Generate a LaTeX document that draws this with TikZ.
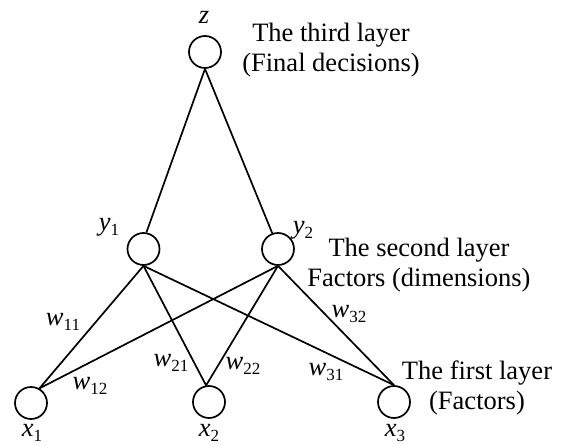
\documentclass[tikz,border=0pt]{standalone}
\usepackage{fontspec}
\setmainfont{Liberation Serif}
\newcommand{\vsub}[2]{\textit{#1}\raisebox{-0.4ex}{\fontsize{17}{18}\selectfont #2}}
\begin{document}
\begin{tikzpicture}[x=1pt,y=-1pt,
  neuron/.style={circle,draw,line width=1.7pt,minimum size=32pt,inner sep=0pt},
  conn/.style={line width=1.7pt},
  lbl/.style={inner sep=0pt,font=\fontsize{26.5}{30}\selectfont},
  captext/.style={inner sep=0pt,align=center,font=\fontsize{26.5}{30}\selectfont}]
\useasboundingbox (0,0) rectangle (568,446);
\node[neuron] (z) at (205,52) {};
\node[neuron] (y1) at (143.5,249) {};
\node[neuron] (y2) at (278,249) {};
\node[neuron] (x1) at (31,403) {};
\node[neuron] (x2) at (209,402) {};
\node[neuron] (x3) at (394,402) {};
\draw[conn] (z.south) -- (y1.80);
\draw[conn] (z.south) -- (y2.110);
\foreach \y in {y1,y2}{
  \draw[conn] (\y.south) -- (x1.60);
  \draw[conn] (\y.south) -- (x2.100);
  \draw[conn] (\y.south) -- (x3.90);
}
\node[lbl] (lz) at (204,17) {\textit{z}};
\node[lbl] (ly1) at (109,227) {\vsub{y}{1}};
\node[lbl] (ly2) at (303,230) {\vsub{y}{2}};
\node[lbl] (lx1) at (32,433) {\vsub{x}{1}};
\node[lbl] (lx2) at (209,433) {\vsub{x}{2}};
\node[lbl] (lx3) at (395,433) {\vsub{x}{3}};
\node[lbl] (w11) at (63,322) {\vsub{w}{11}};
\node[lbl] (w12) at (90,386) {\vsub{w}{12}};
\node[lbl] (w21) at (171,363) {\vsub{w}{21}};
\node[lbl] (w22) at (243,366) {\vsub{w}{22}};
\node[lbl] (w31) at (326,372) {\vsub{w}{31}};
\node[lbl] (w32) at (349,314) {\vsub{w}{32}};
\node[captext] (c3) at (331,50) {The third layer\\(Final decisions)};
\node[captext] (c2) at (419,265) {The second layer\\Factors (dimensions)};
\node[captext] (c1) at (477,388) {The first layer\\(Factors)};
\end{tikzpicture}
\end{document}
